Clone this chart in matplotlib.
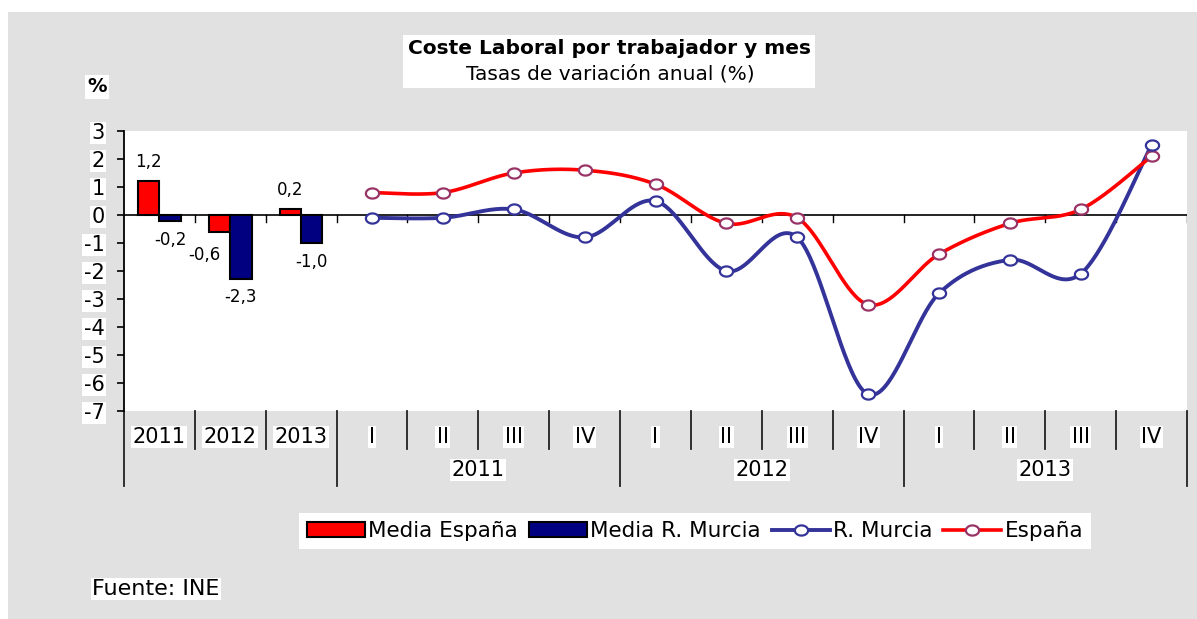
import numpy as np
import matplotlib
matplotlib.use("Agg")
import matplotlib.pyplot as plt
from matplotlib.patches import Rectangle, Patch
from matplotlib.lines import Line2D
from matplotlib.path import Path

# ---------------- data ----------------
categories = ["2011", "2012", "2013", "I", "II", "III", "IV",
              "I", "II", "III", "IV", "I", "II", "III", "IV"]
groups = ["2011", "2012", "2013"]
media_espana = [1.2, -0.6, 0.2]
media_murcia = [-0.2, -2.3, -1.0]
murcia_q = [-0.1, -0.1, 0.2, -0.8, 0.5, -2.0, -0.8, -6.4, -2.8, -1.6, -2.1, 2.5]
espana_q = [0.8, 0.8, 1.5, 1.6, 1.1, -0.3, -0.1, -3.2, -1.4, -0.3, 0.2, 2.1]
yticks = list(range(-7, 4))

W, H = 1197, 619
def fx(px): return px / W
def fy(py): return 1 - py / H

RED = "#ff0000"
NAVY = "#000080"
BLUE = "#333399"
PURP = "#993366"
GRAY = "#e1e1e1"

fig = plt.figure(figsize=(W / 100, H / 100), dpi=100)
fig.patches.append(Rectangle((fx(8), 0), 1 - fx(8), fy(12), transform=fig.transFigure,
                             facecolor=GRAY, edgecolor="none", zorder=-10))

ax_top, ax_bot = 131, 411
ax = fig.add_axes([fx(124), fy(ax_bot), fx(1187) - fx(124), (ax_bot - ax_top) / H])
ax.set_facecolor("white")
ax.set_xlim(0, len(categories))
ax.set_ylim(-7, 3)
for s in ["top", "right", "bottom"]:
    ax.spines[s].set_visible(False)
ax.spines["left"].set_linewidth(1.3)
ax.set_xticks([])
ax.set_yticks(yticks)
ax.set_yticklabels([str(t) for t in yticks])
ax.tick_params(axis="y", direction="out", length=5, width=1.2, labelsize=15, pad=9)
for lbl in ax.get_yticklabels():
    lbl.set_bbox(dict(facecolor="white", edgecolor="none", pad=1))

# zero line with ticks
ax.axhline(0, color="black", lw=1.2, zorder=2)
for b in range(1, len(categories) + 1):
    ax.plot([b, b], [0, -0.25], color="black", lw=1.0, zorder=2)

# bars
n_bar = len(media_espana)
xb = np.arange(n_bar) + 0.5
bw = 0.3
ax.bar(xb - bw / 2, media_espana, width=bw, color=RED, edgecolor="black", lw=1.5, zorder=3)
ax.bar(xb + bw / 2, media_murcia, width=bw, color=NAVY, edgecolor="black", lw=1.5, zorder=3)

def fmt(v):
    return f"{v:.1f}".replace(".", ",")

label_dx = [[0, -15, 0], [0, 0, 0]]
label_dy = [[19, -23, 19], [-19, -18, -19]]
for j, (vals, off) in enumerate([(media_espana, -bw / 2), (media_murcia, bw / 2)]):
    for i, v in enumerate(vals):
        ax.annotate(fmt(v), xy=(xb[i] + off, v), xytext=(label_dx[j][i], label_dy[j][i]),
                    textcoords="offset pixels", ha="center", va="center", fontsize=12, zorder=7)

# smoothed lines (Catmull-Rom Bezier like Excel)
def smooth(xs, ys, n=40):
    P = np.column_stack([xs, ys]).astype(float)
    out = []
    m = len(P)
    for i in range(m - 1):
        p0 = P[i - 1] if i > 0 else P[i]
        p1, p2 = P[i], P[i + 1]
        p3 = P[i + 2] if i + 2 < m else P[i + 1]
        c1 = p1 + (p2 - p0) / 6
        c2 = p2 - (p3 - p1) / 6
        t = np.linspace(0, 1, n)[:, None]
        seg = ((1 - t) ** 3) * p1 + 3 * ((1 - t) ** 2) * t * c1 + 3 * (1 - t) * t ** 2 * c2 + t ** 3 * p2
        out.append(seg if i == 0 else seg[1:])
    S = np.vstack(out)
    return S[:, 0], S[:, 1]

th = np.linspace(0, 2 * np.pi, 41)
ellipse = Path(np.column_stack([np.cos(th), 0.77 * np.sin(th)]), closed=True)

xq = np.arange(len(murcia_q)) + n_bar + 0.5
sx, sy = smooth(xq, murcia_q)
ax.plot(sx, sy, color=BLUE, lw=2.8, zorder=4, solid_capstyle="round")
sx, sy = smooth(xq, espana_q)
ax.plot(sx, sy, color=RED, lw=2.6, zorder=4, solid_capstyle="round")
ax.plot(xq, espana_q, ls="none", marker=ellipse, ms=9.5, mfc="white", mec=PURP, mew=1.6, zorder=6, clip_on=False)
ax.plot(xq, murcia_q, ls="none", marker=ellipse, ms=9.5, mfc="white", mec=BLUE, mew=1.6, zorder=6, clip_on=False)

# category axis below the plot
trans = ax.get_xaxis_transform()
hpx = ax_bot - ax_top
row1_end = -(449 - ax_bot) / hpx
grp_end = -(486 - ax_bot) / hpx
group_bounds = [0, n_bar, n_bar + 4, n_bar + 8, n_bar + 12]
for b in range(0, len(categories) + 1):
    yend = grp_end if b in group_bounds else row1_end
    ax.plot([b, b], [0, yend], transform=trans, color="#222222", lw=1.3, clip_on=False)
for i, lab in enumerate(categories):
    ax.text(i + 0.5, -(437 - ax_bot) / hpx, lab, transform=trans, ha="center", va="center",
            fontsize=15, bbox=dict(facecolor="white", edgecolor="none", pad=1))
for g, lab in enumerate(groups):
    c = (group_bounds[g + 1] + group_bounds[g + 2]) / 2
    ax.text(c, -(470 - ax_bot) / hpx, lab, transform=trans, ha="center", va="center",
            fontsize=15, bbox=dict(facecolor="white", edgecolor="none", pad=1))

# titles
fig.patches.append(Rectangle((fx(403), fy(88)), fx(815) - fx(403), (88 - 35) / H,
                             transform=fig.transFigure, facecolor="white", edgecolor="none", zorder=-5))
fig.text(fx(610), fy(48), "Coste Laboral por trabajador y mes", ha="center", va="center",
         fontsize=14.5, weight="bold")
fig.text(fx(610), fy(74), "Tasas de variación anual (%)", ha="center", va="center", fontsize=14.5)
fig.text(fx(97), fy(87), "%", ha="center", va="center", fontsize=14, weight="bold",
         bbox=dict(facecolor="white", edgecolor="none", pad=2))
fig.text(fx(92), fy(589), "Fuente: INE", ha="left", va="center", fontsize=16,
         bbox=dict(facecolor="white", edgecolor="none", pad=1))

# legend
handles = [
    Patch(facecolor=RED, edgecolor="black", lw=1.5),
    Patch(facecolor=NAVY, edgecolor="black", lw=1.5),
    Line2D([], [], color=BLUE, lw=2.8, marker=ellipse, ms=9.5, mfc="white", mec=BLUE, mew=1.6),
    Line2D([], [], color=RED, lw=2.6, marker=ellipse, ms=9.5, mfc="white", mec=PURP, mew=1.6),
]
labels = ["Media España", "Media R. Murcia", "R. Murcia", "España"]
leg = fig.legend(handles, labels, loc="center", bbox_to_anchor=(fx(695), fy(531)), ncol=4,
                 frameon=True, fancybox=False, edgecolor="none", facecolor="white", framealpha=1,
                 fontsize=15.5, handlelength=2.7, handleheight=0.65, handletextpad=0.15,
                 columnspacing=0.5, borderpad=0.35, borderaxespad=0)

fig.savefig("out.png", dpi=100, facecolor="white")
